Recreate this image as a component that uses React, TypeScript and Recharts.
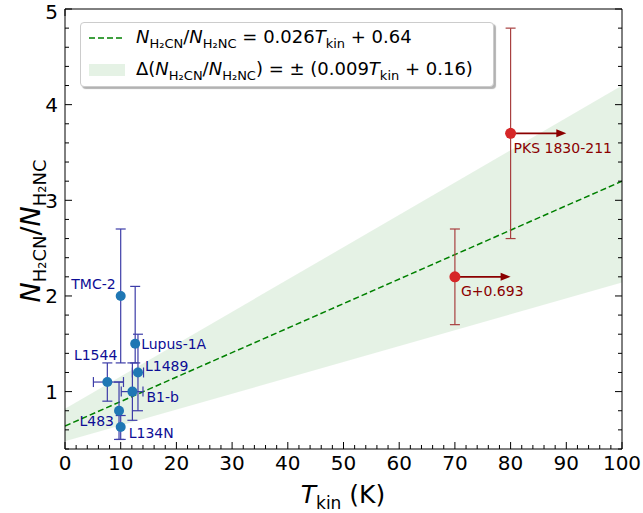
import React from "react";
import {
  Area,
  ComposedChart,
  ErrorBar,
  Line,
  ReferenceLine,
  Scatter,
  XAxis,
  YAxis,
} from "recharts";

// fit line and uncertainty band, read at T = 0 and T = 100 K
const fitTemps = [0, 100];
const fitRatio = [0.64, 3.2];
const bandLow = [0.48, 2.14];
const bandHigh = [0.82, 4.2];

// cold dark clouds
const coldNames = ["TMC-2", "Lupus-1A", "L1489", "L1544", "B1-b", "L483", "L134N"];
const coldTemp = [10, 12.6, 13.1, 7.6, 12.1, 9.7, 10];
const coldRatio = [2.0, 1.5, 1.2, 1.1, 1.0, 0.8, 0.63];
const coldRatioLow = [1.3, 1.3, 0.8, 0.9, 0.7, 0.5, 0.5];
const coldRatioHigh = [2.7, 2.1, 1.6, 1.3, 1.3, 1.1, 0.75];
const coldTempLow = [null, null, 12.1, 5.1, 10.1, null, null];
const coldTempHigh = [null, null, 14.1, 10.5, 14, null, null];

// warm sources (lower limits on T_kin)
const warmNames = ["G+0.693", "PKS 1830-211"];
const warmTemp = [70, 80];
const warmRatio = [2.2, 3.7];
const warmRatioLow = [1.7, 2.6];
const warmRatioHigh = [2.7, 4.8];
const warmArrowTo = [80, 90];

const xMajorTicks = [0, 10, 20, 30, 40, 50, 60, 70, 80, 90, 100];
const yMajorTicks = [1, 2, 3, 4, 5];

const xTicks = Array.from({ length: 51 }, (_, i) => i * 2);
const yTicks = Array.from({ length: 24 }, (_, i) => Math.round((0.4 + i * 0.2) * 10) / 10);

const FONT = "'DejaVu Sans', sans-serif";
const BLUE = "#1f77b4";
const BLUE_DARK = "#0d0d95";
const BLUE_BAR = "#3d3da8";
const RED = "#d62728";
const RED_DARK = "#8b0000";
const RED_BAR = "#a84040";

const bandRows = fitTemps.map((t, i) => ({
  t,
  fit: fitRatio[i],
  band: [bandLow[i], bandHigh[i]],
}));

const coldRows = coldNames.map((name, i) => ({
  name,
  t: coldTemp[i],
  ratio: coldRatio[i],
  yErr: [coldRatio[i] - coldRatioLow[i], coldRatioHigh[i] - coldRatio[i]],
  xErr:
    coldTempLow[i] == null
      ? null
      : [coldTemp[i] - (coldTempLow[i] as number), (coldTempHigh[i] as number) - coldTemp[i]],
}));

const warmRows = warmNames.map((name, i) => ({
  name,
  t: warmTemp[i],
  ratio: warmRatio[i],
  yErr: [warmRatio[i] - warmRatioLow[i], warmRatioHigh[i] - warmRatio[i]],
}));

// label offsets from the marker centre (px)
const labelPlacement: Record<string, { dx: number; dy: number; anchor: "start" | "end" }> = {
  "TMC-2": { dx: -5, dy: -12, anchor: "end" },
  "Lupus-1A": { dx: 6, dy: 0, anchor: "start" },
  L1489: { dx: 7, dy: -7, anchor: "start" },
  L1544: { dx: 10, dy: -27, anchor: "end" },
  "B1-b": { dx: 14, dy: 5, anchor: "start" },
  L483: { dx: -5, dy: 10, anchor: "end" },
  L134N: { dx: 8, dy: 6, anchor: "start" },
  "G+0.693": { dx: 6, dy: 14, anchor: "start" },
  "PKS 1830-211": { dx: 3, dy: 15, anchor: "start" },
};

const isMajorX = (v: number) => xMajorTicks.includes(v);
const isMajorY = (v: number) => yMajorTicks.some((m) => Math.abs(m - v) < 1e-6);

const BottomTick = (p: any) => {
  const major = isMajorX(p.payload.value);
  return (
    <g>
      <line x1={p.x} x2={p.x} y1={p.y} y2={p.y - (major ? 7 : 4)} stroke="#000" />
      {major && (
        <text x={p.x} y={p.y + 21} textAnchor="middle" fontSize={20} fontFamily={FONT} fill="#000">
          {p.payload.value}
        </text>
      )}
    </g>
  );
};

const TopTick = (p: any) => {
  const major = isMajorX(p.payload.value);
  return <line x1={p.x} x2={p.x} y1={p.y} y2={p.y + (major ? 7 : 4)} stroke="#000" />;
};

const LeftTick = (p: any) => {
  const major = isMajorY(p.payload.value);
  // keep the top label inside the page
  const ty = Math.max(p.y, 12);
  return (
    <g>
      <line x1={p.x} x2={p.x + (major ? 7 : 4)} y1={p.y} y2={p.y} stroke="#000" />
      {major && (
        <text x={p.x - 7} y={ty} dy="0.36em" textAnchor="end" fontSize={20} fontFamily={FONT} fill="#000">
          {p.payload.value}
        </text>
      )}
    </g>
  );
};

const RightTick = (p: any) => {
  const major = isMajorY(p.payload.value);
  return <line x1={p.x} x2={p.x - (major ? 7 : 4)} y1={p.y} y2={p.y} stroke="#000" />;
};

const makePoint = (fill: string, textColor: string, r: number) => (p: any) => {
  const place = labelPlacement[p.payload.name];
  return (
    <g>
      <circle cx={p.cx} cy={p.cy} r={r} fill={fill} />
      <text
        x={p.cx + place.dx}
        y={p.cy + place.dy}
        dy="0.36em"
        textAnchor={place.anchor}
        fontSize={14}
        fontFamily={FONT}
        fill={textColor}
      >
        {p.payload.name}
      </text>
    </g>
  );
};

const ArrowShape = (p: any) => {
  const { x1, y1, x2, y2 } = p;
  return (
    <g>
      <line x1={x1} y1={y1} x2={x2 - 8} y2={y2} stroke={RED_DARK} strokeWidth={1.8} />
      <polygon points={`${x2},${y2} ${x2 - 10},${y2 - 4} ${x2 - 10},${y2 + 4}`} fill={RED_DARK} />
    </g>
  );
};

const Sub = ({ children }: { children: React.ReactNode }) => (
  <span style={{ fontSize: 13, position: "relative", top: 5 }}>{children}</span>
);

export default function App() {
  return (
    <div style={{ position: "absolute", left: 0, top: 0, width: 643, height: 513, background: "#fff" }}>
      <ComposedChart
        width={643}
        height={513}
        data={bandRows}
        margin={{ top: 0, right: 0, bottom: 0, left: 0 }}
      >
        <XAxis
          dataKey="t"
          type="number"
          domain={[0, 100]}
          ticks={xTicks}
          interval={0}
          height={64}
          tickSize={0}
          tickMargin={0}
          tick={BottomTick}
          axisLine={{ stroke: "#000" }}
          allowDataOverflow
        />
        <XAxis
          xAxisId="top"
          orientation="top"
          type="number"
          domain={[0, 100]}
          ticks={xTicks}
          interval={0}
          height={9}
          tickSize={0}
          tickMargin={0}
          tick={TopTick}
          axisLine={{ stroke: "#000" }}
          allowDataOverflow
        />
        <YAxis
          type="number"
          domain={[0.4, 5]}
          ticks={yTicks}
          interval={0}
          width={65}
          tickSize={0}
          tickMargin={0}
          tick={LeftTick}
          axisLine={{ stroke: "#000" }}
          allowDataOverflow
        />
        <YAxis
          yAxisId="right"
          orientation="right"
          type="number"
          domain={[0.4, 5]}
          ticks={yTicks}
          interval={0}
          width={21}
          tickSize={0}
          tickMargin={0}
          tick={RightTick}
          axisLine={{ stroke: "#000" }}
          allowDataOverflow
        />
        <Area
          dataKey="band"
          type="linear"
          fill="#008000"
          fillOpacity={0.1}
          stroke="none"
          isAnimationActive={false}
        />
        <Line
          dataKey="fit"
          type="linear"
          stroke="#008000"
          strokeWidth={1.5}
          strokeDasharray="6 3"
          dot={false}
          isAnimationActive={false}
        />
        <Scatter
          data={coldRows}
          dataKey="ratio"
          shape={makePoint(BLUE, BLUE_DARK, 5)}
          isAnimationActive={false}
        >
          <ErrorBar dataKey="yErr" direction="y" width={5} stroke={BLUE_BAR} strokeWidth={1.2} />
          <ErrorBar dataKey="xErr" direction="x" width={5} stroke={BLUE_BAR} strokeWidth={1.2} />
        </Scatter>
        {warmRows.map((w, i) => (
          <ReferenceLine
            key={w.name}
            segment={[
              { x: w.t, y: w.ratio },
              { x: warmArrowTo[i], y: w.ratio },
            ]}
            shape={ArrowShape}
          />
        ))}
        <Scatter
          data={warmRows}
          dataKey="ratio"
          shape={makePoint(RED, RED_DARK, 5.5)}
          isAnimationActive={false}
        >
          <ErrorBar dataKey="yErr" direction="y" width={5} stroke={RED_BAR} strokeWidth={1.2} />
        </Scatter>
      </ComposedChart>

      <svg
        width={643}
        height={513}
        style={{ position: "absolute", left: 0, top: 0, pointerEvents: "none" }}
        fontFamily={FONT}
      >
        <text x={343} y={503} textAnchor="middle" fontSize={25} fill="#000">
          <tspan fontStyle="italic">T</tspan>
          <tspan fontSize={17} dy={6}>kin</tspan>
          <tspan dy={-6}> (K)</tspan>
        </text>
        <text
          transform="translate(40 231) rotate(-90)"
          textAnchor="middle"
          fontSize={27}
          fill="#000"
        >
          <tspan fontStyle="italic">N</tspan>
          <tspan fontSize={18} dy={6}>H₂CN</tspan>
          <tspan dy={-6}>/</tspan>
          <tspan fontStyle="italic">N</tspan>
          <tspan fontSize={18} dy={6}>H₂NC</tspan>
        </text>
      </svg>

      <div
        style={{
          position: "absolute",
          left: 80,
          top: 22,
          width: 414,
          height: 65,
          border: "1px solid #cccccc",
          borderRadius: 4,
          background: "#fff",
          boxShadow: "2px 2px 1px rgba(0,0,0,0.3)",
          fontFamily: FONT,
          fontSize: 18,
          color: "#000",
          boxSizing: "border-box",
        }}
      >
        <svg width={46} height={65} style={{ position: "absolute", left: 0, top: 0 }}>
          <line x1={8} x2={43} y1={15} y2={15} stroke="#008000" strokeWidth={1.5} strokeDasharray="6 3" />
          <rect x={8} y={41} width={36} height={12} fill="#008000" fillOpacity={0.1} />
        </svg>
        <div style={{ position: "absolute", left: 55, top: 2, whiteSpace: "nowrap", lineHeight: "24px" }}>
          <i>N</i>
          <Sub>H₂CN</Sub>/<i>N</i>
          <Sub>H₂NC</Sub> = 0.026<i>T</i>
          <Sub>kin</Sub> + 0.64
        </div>
        <div style={{ position: "absolute", left: 55, top: 34, whiteSpace: "nowrap", lineHeight: "24px" }}>
          Δ(<i>N</i>
          <Sub>H₂CN</Sub>/<i>N</i>
          <Sub>H₂NC</Sub>) = ± (0.009<i>T</i>
          <Sub>kin</Sub> + 0.16)
        </div>
      </div>
    </div>
  );
}
